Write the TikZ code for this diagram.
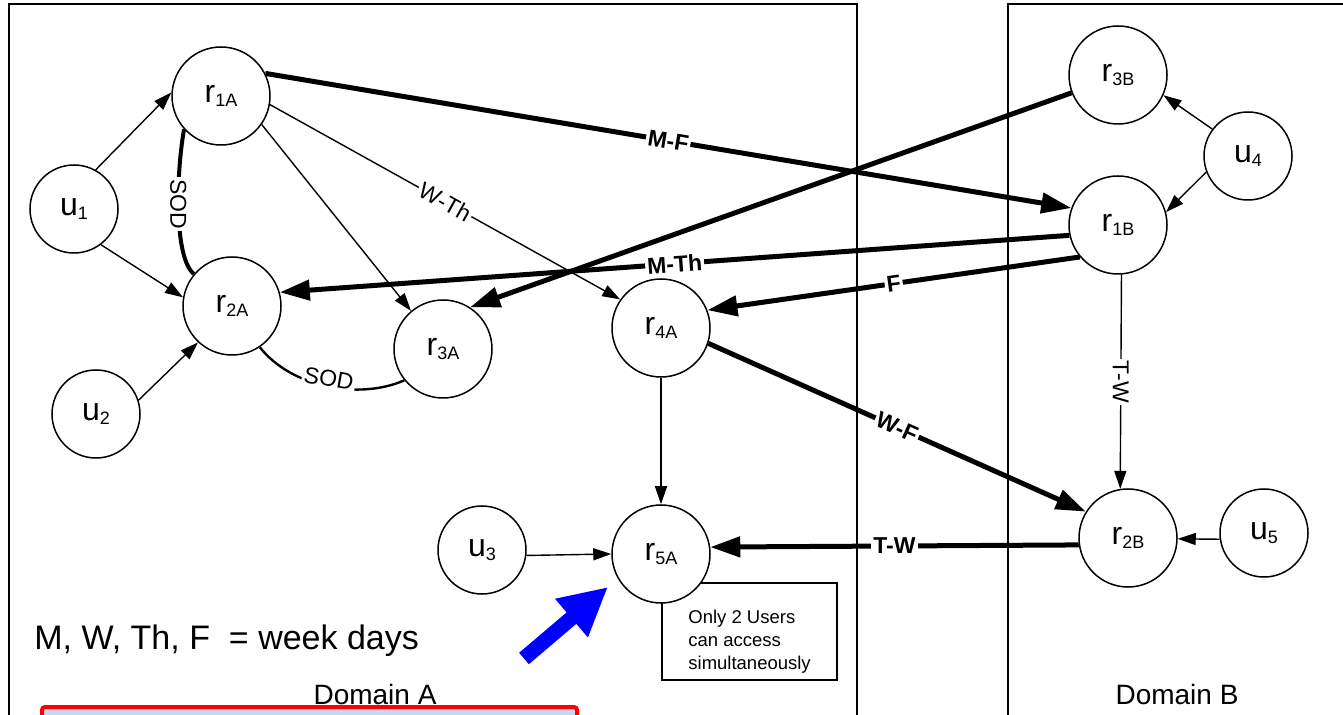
\documentclass[tikz,border=0pt]{standalone}
\usepackage{fontspec}
\setmainfont{Liberation Sans}
\usetikzlibrary{arrows.meta}
\definecolor{boxblue}{RGB}{200,216,240}
\newcommand\lowsub[1]{\raisebox{-2pt}{\fontsize{9}{9}\selectfont #1}}
\begin{document}
\begin{tikzpicture}[x=0.5pt,y=-0.5pt,
  res/.style={circle,draw,line width=0.75pt,fill=white,minimum size=49pt,inner sep=0pt,font=\fontsize{16}{16}\selectfont},
  usr/.style={res,minimum size=44pt},
  thinarr/.style={line width=0.7pt,-{Triangle[length=9pt,width=6pt]}},
  thickarr/.style={line width=2.5pt,-{Triangle[length=15pt,width=10pt]}},
  lbl/.style={fill=white,inner sep=1pt,font=\fontsize{11.5}{12}\selectfont},
  blbl/.style={lbl,font=\fontsize{11.5}{12}\selectfont\bfseries},
  domline/.style={line width=0.75pt},
  txt/.style={inner sep=0pt}
]
\useasboundingbox (0,0) rectangle (1343,715);
\clip (0,0) rectangle (1343,715);

% domain boxes
\draw[domline] (9,740) -- (9,4) -- (857,4) -- (857,740);
\draw[domline] (1008,740) -- (1008,4) -- (1360,4);
\node[txt,anchor=base,font=\fontsize{14}{14}\selectfont] (domA) at (375,704) {Domain A};
\node[txt,anchor=base,font=\fontsize{14}{14}\selectfont] (domB) at (1177,704) {Domain B};

% red box at bottom
\draw[red,line width=2pt,fill=boxblue,rounded corners=1.5pt] (42,707) rectangle (577,760);

% note box
\node[draw,line width=0.75pt,anchor=north west,minimum width=87.5pt,minimum height=48.5pt,inner sep=0pt] (note) at (661,582) {};
\node[txt,anchor=north west,align=left,font=\fontsize{9.25}{11.5}\selectfont] (notetext) at (688,610) {Only 2 Users\\can access\\simultaneously};

% legend
\node[txt,anchor=base west,font=\fontsize{17}{17}\selectfont] (legend) at (34,649) {M, W, Th, F\ \ = week days};

% nodes
\node[res] (r1A) at (221,96) {r\lowsub{1A}};
\node[usr] (u1) at (74,209) {u\lowsub{1}};
\node[res] (r2A) at (232,306) {r\lowsub{2A}};
\node[usr] (u2) at (96,414) {u\lowsub{2}};
\node[res] (r3A) at (443,349) {r\lowsub{3A}};
\node[res] (r4A) at (661,328) {r\lowsub{4A}};
\node[res] (r5A) at (661,554) {r\lowsub{5A}};
\node[usr] (u3) at (482,550) {u\lowsub{3}};
\node[res] (r3B) at (1118,75) {r\lowsub{3B}};
\node[usr] (u4) at (1248,156) {u\lowsub{4}};
\node[res] (r1B) at (1118,225) {r\lowsub{1B}};
\node[res] (r2B) at (1128,538) {r\lowsub{2B}};
\node[usr] (u5) at (1264,533) {u\lowsub{5}};

% thin connectors
\draw[thinarr] (u1.61) -- (r1A.176);
\draw[thinarr] (u1.-53) -- (r2A.170);
\draw[thinarr] (u2.18) -- (r2A.227);
\draw[thinarr] (r1A.-35) -- (r3A.130);
\draw[thinarr] (r1A.-10) -- node[lbl,sloped] {W-Th} (r4A.145);
\draw[thinarr] (r4A.270) -- (r5A.90);
\draw[thinarr] (u3.-7) -- (r5A.180);
\draw[thinarr] (u4.143) -- (r3B.-24);
\draw[thinarr] (u4.201) -- (r1B.15);
\draw[thinarr] (r1B.274) -- node[lbl,rotate=-90] {T-W} (r2B.99);
\draw[thinarr] (u5.188) -- (r2B.-1);

% thick connectors
\draw[thickarr] (r1A.27) -- node[blbl,sloped] {M-F} (r1B.160);
\draw[thickarr] (r3B.201) -- (r3A.57);
\draw[thickarr] (r1B.192) -- node[blbl,sloped] {M-Th} (r2A.16);
\draw[thickarr] (r1B.220) -- node[blbl,sloped] {F} (r4A.21);
\draw[thickarr] (r4A.-18) -- node[blbl,sloped] {W-F} (r2B.148);
\draw[thickarr] (r2B.188) -- node[blbl] {T-W} (r5A.8);

% SOD constraints
\draw[line width=2pt] (r1A.222) .. controls (176,175) and (174,258) .. node[lbl,pos=0.45,rotate=-90] {SOD} (r2A.140);
\draw[line width=1.2pt] (r2A.-56) .. controls (292,388) and (360,400) .. node[lbl,pos=0.5,rotate=-10,yshift=4pt] {SOD} (r3A.219);

% blue arrow
\coordinate (bt) at (524,658.5);
\coordinate (bh) at (608,587);
\draw[blue,line width=7.5pt,-{Triangle[length=24pt,width=23.5pt]}] (bt) -- (bh);
\end{tikzpicture}
\end{document}
